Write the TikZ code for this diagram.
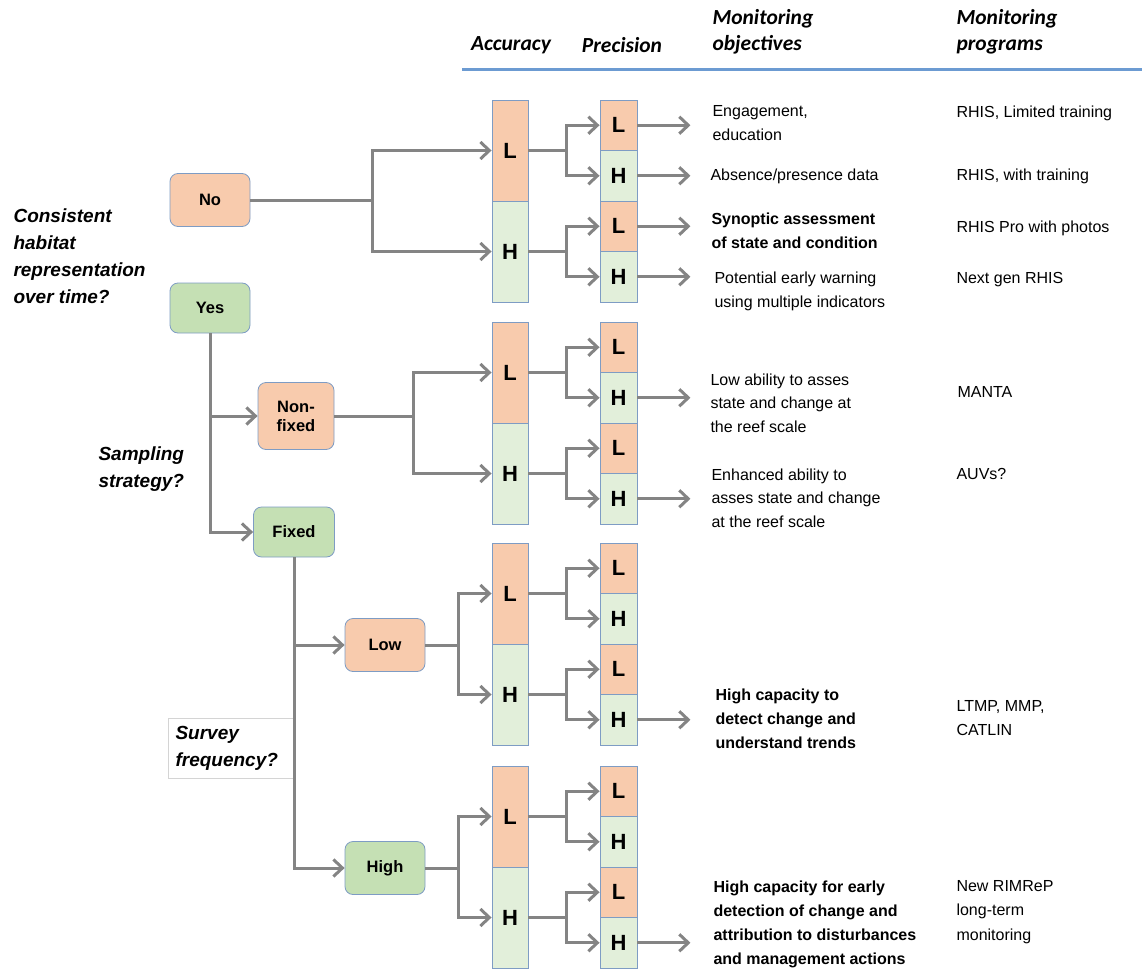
\documentclass[tikz,border=0pt]{standalone}
\usepackage{fontspec}
\setmainfont{Liberation Sans}
\newfontfamily\headfont{Carlito}
\usetikzlibrary{arrows.meta}
\definecolor{salmon}{HTML}{F8CBAD}
\definecolor{leaf}{HTML}{C5E0B4}
\definecolor{mint}{HTML}{E2EFDA}
\definecolor{edgeblue}{HTML}{7E9CC4}
\definecolor{wire}{HTML}{848484}
\definecolor{rulecol}{HTML}{6C9BD2}
\definecolor{framegray}{HTML}{D4D4D4}
\begin{document}
\begin{tikzpicture}[x=1pt,y=-1pt,
  choice/.style={draw=edgeblue, line width=0.8pt, rounded corners=8pt,
    inner sep=0pt, align=center, font=\fontsize{16.5}{19}\selectfont\bfseries},
  acc/.style={draw=edgeblue, line width=0.9pt, minimum width=36pt,
    minimum height=101pt, inner sep=0pt, font=\fontsize{22}{24}\selectfont\bfseries},
  prec/.style={acc, minimum width=37pt, minimum height=50.5pt},
  wireline/.style={draw=wire, line width=3pt},
  arr/.style={wireline, -{Straight Barb[length=9pt,width=17pt]}},
  head/.style={font=\headfont\fontsize{21.5}{26}\selectfont\bfseries\itshape, align=left},
  question/.style={anchor=west, align=left, font=\fontsize{19}{27}\selectfont\bfseries\itshape},
  objtext/.style={anchor=west, align=left, font=\fontsize{16}{23.5}\selectfont},
  objbold/.style={anchor=west, align=left, font=\fontsize{16}{24}\selectfont\bfseries},
  progtext/.style={anchor=west, align=left, font=\fontsize{16}{24.5}\selectfont}
]
\useasboundingbox (0,0) rectangle (1142,971);

% column headings
\node[head] (hacc) at (511,45) {Accuracy};
\node[head] (hprec) at (622,45) {Precision};
\node[head, anchor=west] (hobj) at (709,32) {Monitoring\\objectives};
\node[head, anchor=west] (hprog) at (953,32) {Monitoring\\programs};
\draw[rulecol, line width=3pt] (462,70) -- (1142,70);

% questions
\node[question] (q1) at (10,256.5) {Consistent\\habitat\\representation\\over time?};
\node[question] (q2) at (95,469) {Sampling\\strategy?};
\node[draw=framegray, line width=0.6pt, fill=white, minimum width=126pt,
  minimum height=60pt, inner sep=0pt] (qbox) at (231,748) {};
\node[question] (q3) at (172,748) {Survey\\frequency?};

% decision boxes
\node[choice, fill=salmon, minimum width=80pt, minimum height=53pt] (no) at (210,200) {No};
\node[choice, fill=leaf, minimum width=80pt, minimum height=50pt] (yes) at (210,308) {Yes};
\node[choice, fill=salmon, minimum width=76pt, minimum height=67pt] (nonfixed) at (296,416) {Non-\\fixed};
\node[choice, fill=leaf, minimum width=81pt, minimum height=50pt] (fixed) at (294,532) {Fixed};
\node[choice, fill=salmon, minimum width=80pt, minimum height=53pt] (low) at (385,645) {Low};
\node[choice, fill=leaf, minimum width=80pt, minimum height=53pt] (high) at (385,868) {High};

% accuracy / precision columns
\foreach \g/\T in {1/100,2/322,3/543,4/766}{
  \node[acc, fill=salmon] (aL\g) at (510,\T+50.5) {L};
  \node[acc, fill=mint] (aH\g) at (510,\T+151.5) {H};
  \node[prec, fill=salmon] (pLL\g) at (618.5,\T+25.25) {L};
  \node[prec, fill=mint] (pLH\g) at (618.5,\T+75.75) {H};
  \node[prec, fill=salmon] (pHL\g) at (618.5,\T+126.25) {L};
  \node[prec, fill=mint] (pHH\g) at (618.5,\T+176.75) {H};
  \draw[arr] (aL\g.east) -- ++(38,0) |- (pLL\g.west);
  \draw[arr] (aL\g.east) -- ++(38,0) |- (pLH\g.west);
  \draw[arr] (aH\g.east) -- ++(38,0) |- (pHL\g.west);
  \draw[arr] (aH\g.east) -- ++(38,0) |- (pHH\g.west);
}

% decision tree branches
\coordinate (j1) at (372,200);
\coordinate (j2) at (413,416);
\coordinate (j3) at (458,645);
\coordinate (j4) at (458,868);
\draw[arr] (no.east) -- (j1) |- (aL1.west);
\draw[arr] (j1) |- (aH1.west);
\draw[arr] (nonfixed.east) -- (j2) |- (aL2.west);
\draw[arr] (j2) |- (aH2.west);
\draw[arr] (low.east) -- (j3) |- (aL3.west);
\draw[arr] (j3) |- (aH3.west);
\draw[arr] (high.east) -- (j4) |- (aL4.west);
\draw[arr] (j4) |- (aH4.west);

\draw[arr] (yes.south) |- (fixed.west);
\draw[arr] (yes.south |- nonfixed.west) -- (nonfixed.west);
\draw[arr] (fixed.south) |- (high.west);
\draw[arr] (fixed.south |- low.west) -- (low.west);

% outcome arrows
\draw[arr] (pLL1.east) -- ++(53,0);
\draw[arr] (pLH1.east) -- ++(53,0);
\draw[arr] (pHL1.east) -- ++(53,0);
\draw[arr] (pHH1.east) -- ++(53,0);
\draw[arr] (pLH2.east) -- ++(53,0);
\draw[arr] (pHH2.east) -- ++(53,0);
\draw[arr] (pHH3.east) -- ++(53,0);
\draw[arr] (pHH4.east) -- ++(53,0);

% monitoring objectives
\node[objtext] (o1) at (709,123) {Engagement,\\education};
\node[objtext] (o2) at (707,176) {Absence/presence data};
\node[objbold] (o3) at (708,231) {Synoptic assessment\\of state and condition};
\node[objtext] (o4) at (711,291.5) {Potential early warning\\using multiple indicators};
\node[objtext] (o5) at (707,403) {Low ability to asses\\state and change at\\the reef scale};
\node[objtext] (o6) at (708,498) {Enhanced ability to\\asses state and change\\at the reef scale};
\node[objbold] (o7) at (712,718.5) {High capacity to\\detect change and\\understand trends};
\node[objbold] (o8) at (710,924) {High capacity for early\\detection of change and\\attribution to disturbances\\and management actions};

% monitoring programs
\node[progtext] (m1) at (953,113) {RHIS, Limited training};
\node[progtext] (m2) at (953,176) {RHIS, with training};
\node[progtext] (m3) at (953,228) {RHIS Pro with photos};
\node[progtext] (m4) at (953,280) {Next gen RHIS};
\node[progtext] (m5) at (954,392) {MANTA};
\node[progtext] (m6) at (953,474) {AUVs?};
\node[progtext] (m7) at (953,718) {LTMP, MMP,\\CATLIN};
\node[progtext] (m8) at (953,912) {New RIMReP\\long-term\\monitoring};
\end{tikzpicture}
\end{document}
